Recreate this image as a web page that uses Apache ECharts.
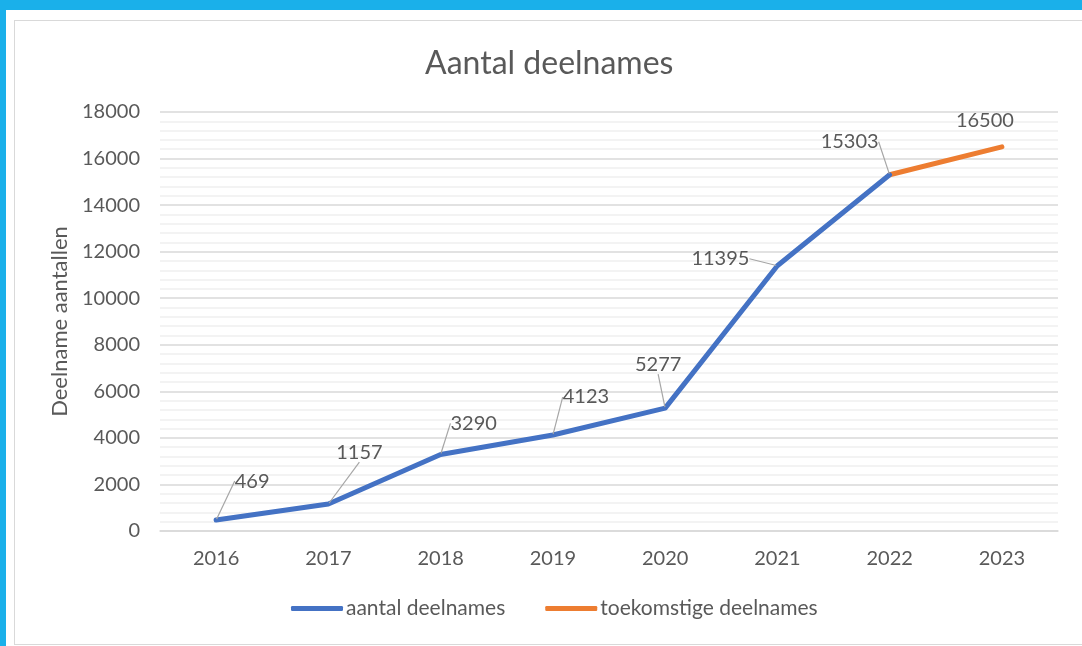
<!DOCTYPE html>
<html>
<head>
<meta charset="utf-8">
<script src="https://cdn.jsdelivr.net/npm/echarts@6/dist/echarts.min.js"></script>
<style>
html,body{margin:0;padding:0;width:1082px;height:646px;overflow:hidden;background:#1ab0ea;}
#white{position:absolute;left:6px;top:10px;right:0;bottom:0;background:#fff;}
#frame{position:absolute;left:14px;top:20px;width:1080px;height:623px;border:1px solid #d9d9d9;}
#chart{position:absolute;left:0;top:0;width:1082px;height:646px;}
</style>
</head>
<body>
<div id="white"></div>
<div id="frame"></div>
<div id="chart"></div>
<script>
const categories = ['2016','2017','2018','2019','2020','2021','2022','2023'];
const actualValues = [469, 1157, 3290, 4123, 5277, 11395, 15303, null];
const futureValues = [null, null, null, null, null, null, 15303, 16500];
const seriesNames = ['aantal deelnames', 'toekomstige deelnames'];
const titleText = 'Aantal deelnames';
const yAxisName = 'Deelname aantallen';

// label offsets (pixels) relative to default 'top' label position
const actualLabelShift = [[36,-23],[31,-36],[33,-15],[33,-22],[-7,-28],[-57,9],[-40,-17],[0,0]];
const futureLabelShift = [[0,0],[0,0],[0,0],[0,0],[0,0],[0,0],[0,0],[-17,-10]];

const FONT = 'Lato';
const TXT = '#595959';

const chart = echarts.init(document.getElementById('chart'), null, {renderer:'canvas'});
chart.setOption({
  animation: false,
  textStyle: {fontFamily: FONT},
  title: {
    text: titleText, left: 420, top: 43,
    textStyle: {fontFamily: FONT, fontSize: 32, fontWeight: 'normal', color: TXT}
  },
  legend: {
    bottom: 22, left: 286, itemWidth: 52, itemHeight: 5, itemGap: 40,
    icon: 'roundRect',
    textStyle: {fontFamily: FONT, fontSize: 21, color: TXT, padding:[0,0,0,-2]},
    data: seriesNames
  },
  grid: {left: 160, right: 24, top: 112, bottom: 115},
  xAxis: {
    type: 'category', data: categories, boundaryGap: true,
    axisLine: {lineStyle: {color: '#d9d9d9', width: 1.5}},
    axisTick: {show: false},
    axisLabel: {color: TXT, fontSize: 20, margin: 18, fontFamily: FONT}
  },
  yAxis: {
    type: 'value', min: 0, max: 18000, interval: 2000,
    name: yAxisName, nameLocation: 'middle', nameGap: 86, nameRotate: 90,
    nameTextStyle: {color: TXT, fontSize: 22, fontFamily: FONT},
    axisLine: {show: false}, axisTick: {show: false},
    axisLabel: {color: TXT, fontSize: 20, margin: 20, fontFamily: FONT, formatter: v => String(v)},
    splitLine: {lineStyle: {color: '#d9d9d9', width: 1.5}},
    minorTick: {show: false, splitNumber: 5},
    minorSplitLine: {show: true, lineStyle: {color: '#efefef', width: 1.5}}
  },
  series: [
    {
      name: seriesNames[0], type: 'line', data: actualValues,
      showSymbol: true, symbol: 'circle', symbolSize: 2,
      lineStyle: {color: '#4472c4', width: 5, cap: 'round', join: 'round'},
      itemStyle: {color: '#4472c4'},
      label: {show: true, position: 'top', color: TXT, fontSize: 20, fontFamily: FONT,
        formatter: p => p.value == null ? '' : String(p.value)},
      labelLine: {show: true, lineStyle: {color: '#a6a6a6', width: 1.2}},
      labelLayout: p => ({dx: actualLabelShift[p.dataIndex][0], dy: actualLabelShift[p.dataIndex][1]}),
      z: 3
    },
    {
      name: seriesNames[1], type: 'line', data: futureValues,
      showSymbol: true, symbol: 'circle', symbolSize: 2,
      lineStyle: {color: '#ed7d31', width: 5, cap: 'round', join: 'round'},
      itemStyle: {color: '#ed7d31'},
      label: {show: true, position: 'top', color: TXT, fontSize: 20, fontFamily: FONT,
        formatter: p => p.dataIndex === 7 ? String(p.value) : ''},
      labelLine: {show: false},
      labelLayout: p => ({dx: futureLabelShift[p.dataIndex][0], dy: futureLabelShift[p.dataIndex][1]}),
      z: 2
    }
  ]
});
</script>
</body>
</html>
